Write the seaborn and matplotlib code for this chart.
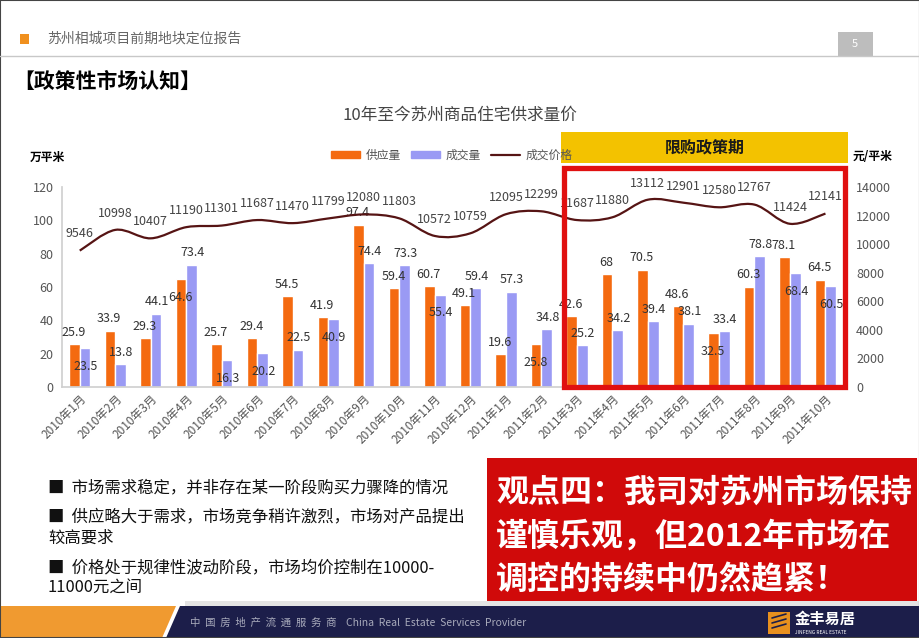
import numpy as np
import pandas as pd
import matplotlib
matplotlib.use("Agg")
import matplotlib.pyplot as plt
import seaborn as sns
from matplotlib.patches import Rectangle, Polygon, PathPatch, Patch
from matplotlib.lines import Line2D
from matplotlib.path import Path

# ---------------- data ----------------
months = ["2010年1月", "2010年2月", "2010年3月", "2010年4月", "2010年5月", "2010年6月",
          "2010年7月", "2010年8月", "2010年9月", "2010年10月", "2010年11月", "2010年12月",
          "2011年1月", "2011年2月", "2011年3月", "2011年4月", "2011年5月", "2011年6月",
          "2011年7月", "2011年8月", "2011年9月", "2011年10月"]
supply = [25.9, 33.9, 29.3, 64.6, 25.7, 29.4, 54.5, 41.9, 97.4, 59.4, 60.7, 49.1,
          19.6, 25.8, 42.6, 68, 70.5, 48.6, 32.5, 60.3, 78.1, 64.5]
sales = [23.5, 13.8, 44.1, 73.4, 16.3, 20.2, 22.5, 40.9, 74.4, 73.3, 55.4, 59.4,
         57.3, 34.8, 25.2, 34.2, 39.4, 38.1, 33.4, 78.8, 68.4, 60.5]
price = [9546, 10998, 10407, 11190, 11301, 11687, 11470, 11799, 12080, 11803, 10572, 10759,
         12095, 12299, 11687, 11880, 13112, 12901, 12580, 12767, 11424, 12141]
series_names = ["供应量", "成交量", "成交价格"]
left_ticks = [0, 20, 40, 60, 80, 100, 120]
right_ticks = [0, 2000, 4000, 6000, 8000, 10000, 12000, 14000]

ORANGE = "#F46A10"
BLUE = "#9A9AF4"
LINE = "#561414"
GREY = "#555555"

sns.set_theme(style="white")
plt.rcParams["font.family"] = ["Noto Sans CJK SC", "DejaVu Sans"]

W, H = 920, 638
fig = plt.figure(figsize=(9.2, 6.38), dpi=100)
fig.patch.set_facecolor("white")


def fx(x):
    return x / W


def fy(y):
    return 1 - y / H


# ---------------- header ----------------
fig.add_artist(Rectangle((fx(20), fy(44)), 9 / W, 10 / H, transform=fig.transFigure,
                         color="#F0901E", lw=0))
fig.text(fx(47), fy(39), "苏州相城项目前期地块定位报告", fontsize=10, color="#666666",
         va="center", ha="left")
fig.add_artist(Rectangle((fx(838), fy(56)), 35 / W, 24 / H, transform=fig.transFigure,
                         color="#BDBDBD", lw=0))
fig.text(fx(855), fy(44), "5", fontsize=8, color="white", va="center", ha="center")
fig.add_artist(Line2D([0, 1], [fy(56), fy(56)], transform=fig.transFigure,
                      color="#C8C8C8", lw=1))
fig.text(fx(13), fy(81), "【政策性市场认知】", fontsize=15, fontweight="bold",
         color="black", va="center", ha="left")
fig.text(fx(460), fy(115), "10年至今苏州商品住宅供求量价", fontsize=12, color="#444444",
         va="center", ha="center")

# ---------------- chart ----------------
ax = fig.add_axes([fx(62), fy(387), (845 - 62) / W, 200 / H])
df = pd.DataFrame({
    "month": months * 2,
    "value": supply + sales,
    "series": [series_names[0]] * len(months) + [series_names[1]] * len(months),
})
sns.barplot(data=df, x="month", y="value", hue="series", palette=[ORANGE, BLUE],
            width=0.6, saturation=1, ax=ax, legend=False, dodge=True)
ax.set_xlim(-0.45, 21.55)
ax.set_ylim(0, 120)
ax.set_yticks(left_ticks)
ax.set_yticklabels([str(t) for t in left_ticks], fontsize=9, color=GREY)
ax.set_xticks(range(len(months)))
ax.set_xticklabels(months, rotation=45, ha="right", rotation_mode="anchor",
                   fontsize=8.5, color=GREY)
ax.set_xlabel("")
ax.set_ylabel("")
for s in ["top", "right"]:
    ax.spines[s].set_visible(False)
ax.spines["left"].set_color("#D0D0D0")
ax.spines["bottom"].set_color("#D0D0D0")
ax.tick_params(axis="y", length=0, pad=6)
ax.tick_params(axis="x", length=0, pad=4)
ax.set_xticks(np.arange(-0.5, len(months), 1), minor=True)
ax.tick_params(axis="x", which="minor", length=3, color="#D0D0D0", direction="out")

# bar labels
for i in range(len(months)):
    a, b = supply[i], sales[i]
    hi, lo = max(a, b), min(a, b)
    for val, dx in ((a, -0.17), (b, 0.17)):
        if val == hi or hi - lo > 10:
            yv = val + 7
        else:
            yv = val - 11
        ax.text(i + dx, yv, f"{val:g}", fontsize=9, color="#333333",
                ha="center", va="center")

# price line on right axis
ax2 = ax.twinx()
ax2.set_ylim(0, 14000)
ax2.set_yticks(right_ticks)
ax2.set_yticklabels([str(t) for t in right_ticks], fontsize=9, color=GREY)
for s in ["top", "right", "left", "bottom"]:
    ax2.spines[s].set_visible(False)
ax2.tick_params(axis="y", length=0, pad=8)
ax2.grid(False)
ax.grid(False)

xs = np.arange(len(price), dtype=float)
ys = np.array(price, dtype=float)
verts = [(xs[0], ys[0])]
codes = [Path.MOVETO]
n = len(xs)
for i in range(n - 1):
    p0 = (xs[max(i - 1, 0)], ys[max(i - 1, 0)])
    p1 = (xs[i], ys[i])
    p2 = (xs[i + 1], ys[i + 1])
    p3 = (xs[min(i + 2, n - 1)], ys[min(i + 2, n - 1)])
    c1 = (p1[0] + (p2[0] - p0[0]) / 6, p1[1] + (p2[1] - p0[1]) / 6)
    c2 = (p2[0] - (p3[0] - p1[0]) / 6, p2[1] - (p3[1] - p1[1]) / 6)
    verts += [c1, c2, p2]
    codes += [Path.CURVE4] * 3
ax2.add_patch(PathPatch(Path(verts, codes), facecolor="none", edgecolor=LINE, lw=1.6))
for i, p in enumerate(price):
    ax2.annotate(f"{p}", (i, p), xytext=(0, 12), textcoords="offset points",
                 fontsize=9, color="#444444", ha="center", va="center")

# unit labels
fig.text(fx(30), fy(157), "万平米", fontsize=8.5, fontweight="bold", color="black",
         va="center", ha="left")
fig.text(fx(853), fy(157), "元/平米", fontsize=8.5, fontweight="bold", color="black",
         va="center", ha="left")

# legend
handles = [Patch(color=ORANGE), Patch(color=BLUE), Line2D([0], [0], color=LINE, lw=1.6)]
fig.legend(handles, series_names, loc="center", bbox_to_anchor=(fx(452), fy(155)),
           ncol=3, frameon=False, fontsize=8.5, handlelength=2.4, handleheight=0.6,
           columnspacing=0.9, handletextpad=0.5, labelcolor="#555555")

# policy period box
fig.add_artist(Rectangle((fx(561), fy(163)), (848 - 561) / W, 31 / H,
                         transform=fig.transFigure, color="#F3C200", lw=0))
fig.text(fx(704.5), fy(148), "限购政策期", fontsize=11.5, fontweight="bold",
         color="#1a1a1a", va="center", ha="center")
fig.add_artist(Rectangle((fx(564), fy(387)), (845 - 564) / W, (387 - 168) / H,
                         transform=fig.transFigure, fill=False, edgecolor="#E01010",
                         lw=3.8))

# ---------------- bullets ----------------
bullet_lines = [
    (488, "■  市场需求稳定，并非存在某一阶段购买力骤降的情况"),
    (518, "■  供应略大于需求，市场竞争稍许激烈，市场对产品提出"),
    (538, "较高要求"),
    (568, "■  价格处于规律性波动阶段，市场均价控制在10000-"),
    (588, "11000元之间"),
]
for y, t in bullet_lines:
    fig.text(fx(48), fy(y), t, fontsize=11.8, color="#111111", va="center", ha="left")

# ---------------- red opinion box ----------------
fig.add_artist(Rectangle((fx(487), fy(605)), (917 - 487) / W, (605 - 458) / H,
                         transform=fig.transFigure, color="#D00A0A", lw=0))
for y, t in [(493, "观点四：我司对苏州市场保持"), (537, "谨慎乐观，但2012年市场在"),
             (580, "调控的持续中仍然趋紧！")]:
    fig.text(fx(496), fy(y), t, fontsize=23, fontweight="bold", color="white",
             va="center", ha="left")

# ---------------- footer ----------------
fig.add_artist(Rectangle((fx(185), fy(606)), (W - 185) / W, 5 / H,
                         transform=fig.transFigure, color="#E4E4E4", lw=0))
fig.add_artist(Polygon([(0, fy(606)), (fx(176), fy(606)), (fx(162), 0), (0, 0)],
                       closed=True, transform=fig.transFigure, color="#F09A30", lw=0))
fig.add_artist(Polygon([(fx(180), fy(606)), (1, fy(606)), (1, 0), (fx(166), 0)],
                       closed=True, transform=fig.transFigure, color="#1C1E4A", lw=0))
fig.text(fx(190), fy(623), "中  国  房  地  产  流  通  服  务  商    China  Real  Estate  Services  Provider",
         fontsize=7.5, color="#A8AABB", va="center", ha="left")
fig.add_artist(Rectangle((fx(768), fy(634)), 22 / W, 22 / H, transform=fig.transFigure,
                         color="#E8901E", lw=0))
for k in range(3):
    fig.add_artist(Line2D([fx(772), fx(786)], [fy(618 + 5 * k), fy(614 + 5 * k)],
                          transform=fig.transFigure, color="#1C1E4A", lw=1.2))
fig.text(fx(795), fy(619), "金丰易居", fontsize=11, fontweight="bold", color="white",
         va="center", ha="left")
fig.text(fx(795), fy(632), "JINFENG REAL ESTATE", fontsize=3.5, color="white",
         va="center", ha="left")

# slide frame
fig.add_artist(Rectangle((0, 0), 1, 1, transform=fig.transFigure, fill=False,
                         edgecolor="#444444", lw=1.5))

fig.savefig("out.png", dpi=100)
